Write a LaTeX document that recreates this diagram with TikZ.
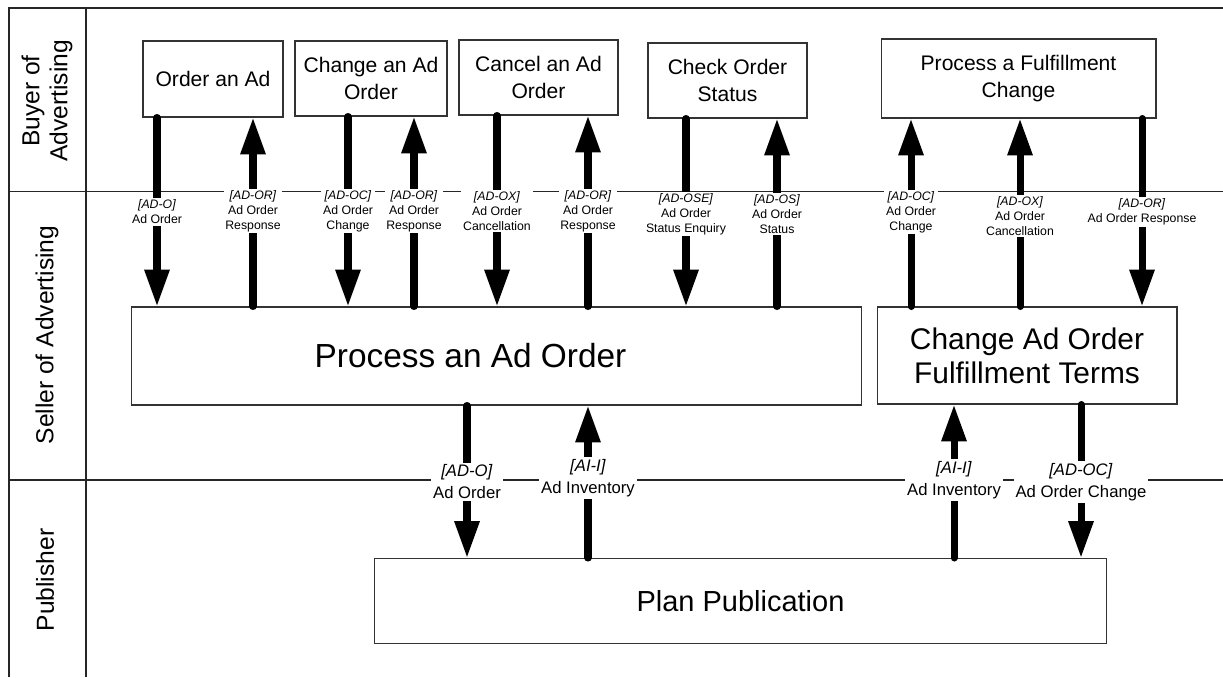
\documentclass[tikz,border=0pt]{standalone}
\usepackage{fontspec}
\setmainfont{Liberation Sans}
\usetikzlibrary{arrows.meta}

\begin{document}
\begin{tikzpicture}[x=0.02cm, y=-0.02cm,
    lane/.style={line width=0.6pt, draw=black!85},
    lanename/.style={rotate=90, align=center, font=\fontsize{14}{16}\selectfont},
    task/.style={draw=black!80, line width=0.6pt, align=center, inner sep=0pt, font=\fontsize{12}{15.4}\selectfont},
    bigtask/.style={task, font=\fontsize{17}{19.5}\selectfont},
    msg/.style={line width=4pt, line cap=round, -{Triangle[width=13.5pt,length=21pt]}},
    msgtag/.style={fill=white, inner sep=1pt, align=center, font=\fontsize{7}{8.5}\selectfont},
    bigtag/.style={msgtag, font=\fontsize{9.5}{12.5}\selectfont}]

    \useasboundingbox (0,0) rectangle (1223,677);

    % Swimlanes
    \draw[lane] (9,677) -- (9,8) -- (1223,8);
    \draw[lane] (86,8) -- (86,677);
    \draw[lane] (9,191.5) -- (1223,191.5);
    \draw[lane] (9,480) -- (1223,480);

    \node[lanename] (buyer) at (47,101) {Buyer of\\Advertising};
    \node[lanename] (seller) at (47,335) {Seller of Advertising};
    \node[lanename] (publisher) at (45,580) {Publisher};

    % Buyer tasks
    \node[task, minimum width=2.8cm, minimum height=1.52cm] (orderad) at (213,79) {Order an Ad};
    \node[task, minimum width=3.04cm, minimum height=1.5cm] (changead) at (371,78.5) {Change an Ad\\Order};
    \node[task, minimum width=3.18cm, minimum height=1.5cm] (cancelad) at (538.5,77.5) {Cancel an Ad\\Order};
    \node[task, minimum width=3.18cm, minimum height=1.5cm] (checkstatus) at (727.5,80.5) {Check Order\\Status};
    \node[task, minimum width=5.5cm, minimum height=1.58cm] (fulfilchange) at (1018.5,78.5) {Process a Fulfillment\\Change};

    % Seller tasks
    \node[bigtask, minimum width=14.62cm, minimum height=1.96cm, font=\fontsize{19}{22}\selectfont] (procorder) at (496.5,356) {\hspace*{-1.04cm}Process an Ad Order};
    \node[bigtask, minimum width=6cm, minimum height=1.94cm] (changeterms) at (1027,355.5) {Change Ad Order\\Fulfillment Terms};

    % Publisher task
    \node[bigtask, minimum width=14.66cm, minimum height=1.7cm, font=\fontsize{16.5}{19}\selectfont] (planpub) at (740.5,601) {Plan Publication};

    % Buyer <-> seller messages
    \draw[msg] (orderad.south -| 157,0) -- (procorder.north -| 157,0);
    \draw[msg] (procorder.north -| 253,0) -- (orderad.south -| 253,0);
    \draw[msg] (changead.south -| 348,0) -- (procorder.north -| 348,0);
    \draw[msg] (procorder.north -| 414,0) -- (changead.south -| 414,0);
    \draw[msg] (cancelad.south -| 497,0) -- (procorder.north -| 497,0);
    \draw[msg] (procorder.north -| 588,0) -- (cancelad.south -| 588,0);
    \draw[msg] (checkstatus.south -| 686,0) -- (procorder.north -| 686,0);
    \draw[msg] (procorder.north -| 777,0) -- (checkstatus.south -| 777,0);
    \draw[msg] (changeterms.north -| 911,0) -- (fulfilchange.south -| 911,0);
    \draw[msg] (changeterms.north -| 1020,0) -- (fulfilchange.south -| 1020,0);
    \draw[msg] (fulfilchange.south -| 1142,0) -- (changeterms.north -| 1142,0);

    % Seller <-> publisher messages
    \draw[msg] (procorder.south -| 467,0) -- (planpub.north -| 467,0);
    \draw[msg] (planpub.north -| 588,0) -- (procorder.south -| 588,0);
    \draw[msg] (planpub.north -| 954,0) -- (changeterms.south -| 954,0);
    \draw[msg] (changeterms.south -| 1081,0) -- (planpub.north -| 1081,0);

    % Message labels
    \node[msgtag] (tago) at (157,212) {\textit{[AD-O]}\\Ad Order};
    \node[msgtag] (tagor) at (253,211) {\textit{[AD-OR]}\\Ad Order\\Response};
    \node[msgtag] (tagoc) at (348,211) {\textit{[AD-OC]}\\Ad Order\\Change};
    \node[msgtag] (tagorb) at (414,211) {\textit{[AD-OR]}\\Ad Order\\Response};
    \node[msgtag] (tagox) at (497,211) {\textit{[AD-OX]}\\Ad Order\\Cancellation};
    \node[msgtag] (tagorc) at (588,211) {\textit{[AD-OR]}\\Ad Order\\Response};
    \node[msgtag] (tagose) at (686,214) {\textit{[AD-OSE]}\\Ad Order\\Status Enquiry};
    \node[msgtag] (tagos) at (777,214) {\textit{[AD-OS]}\\Ad Order\\Status};
    \node[msgtag] (tagocb) at (911,212) {\textit{[AD-OC]}\\Ad Order\\Change};
    \node[msgtag] (tagoxb) at (1020,216) {\textit{[AD-OX]}\\Ad Order\\Cancellation};
    \node[msgtag] (tagord) at (1142,212) {\textit{[AD-OR]}\\Ad Order Response};

    \node[bigtag] (tagob) at (467,482) {\textit{[AD-O]}\\Ad Order};
    \node[bigtag] (tagii) at (588,478) {\textit{[AI-I]}\\Ad Inventory};
    \node[bigtag] (tagiib) at (954,480) {\textit{[AI-I]}\\Ad Inventory};
    \node[bigtag] (tagocc) at (1081,482) {\textit{[AD-OC]}\\Ad Order Change};

\end{tikzpicture}
\end{document}
